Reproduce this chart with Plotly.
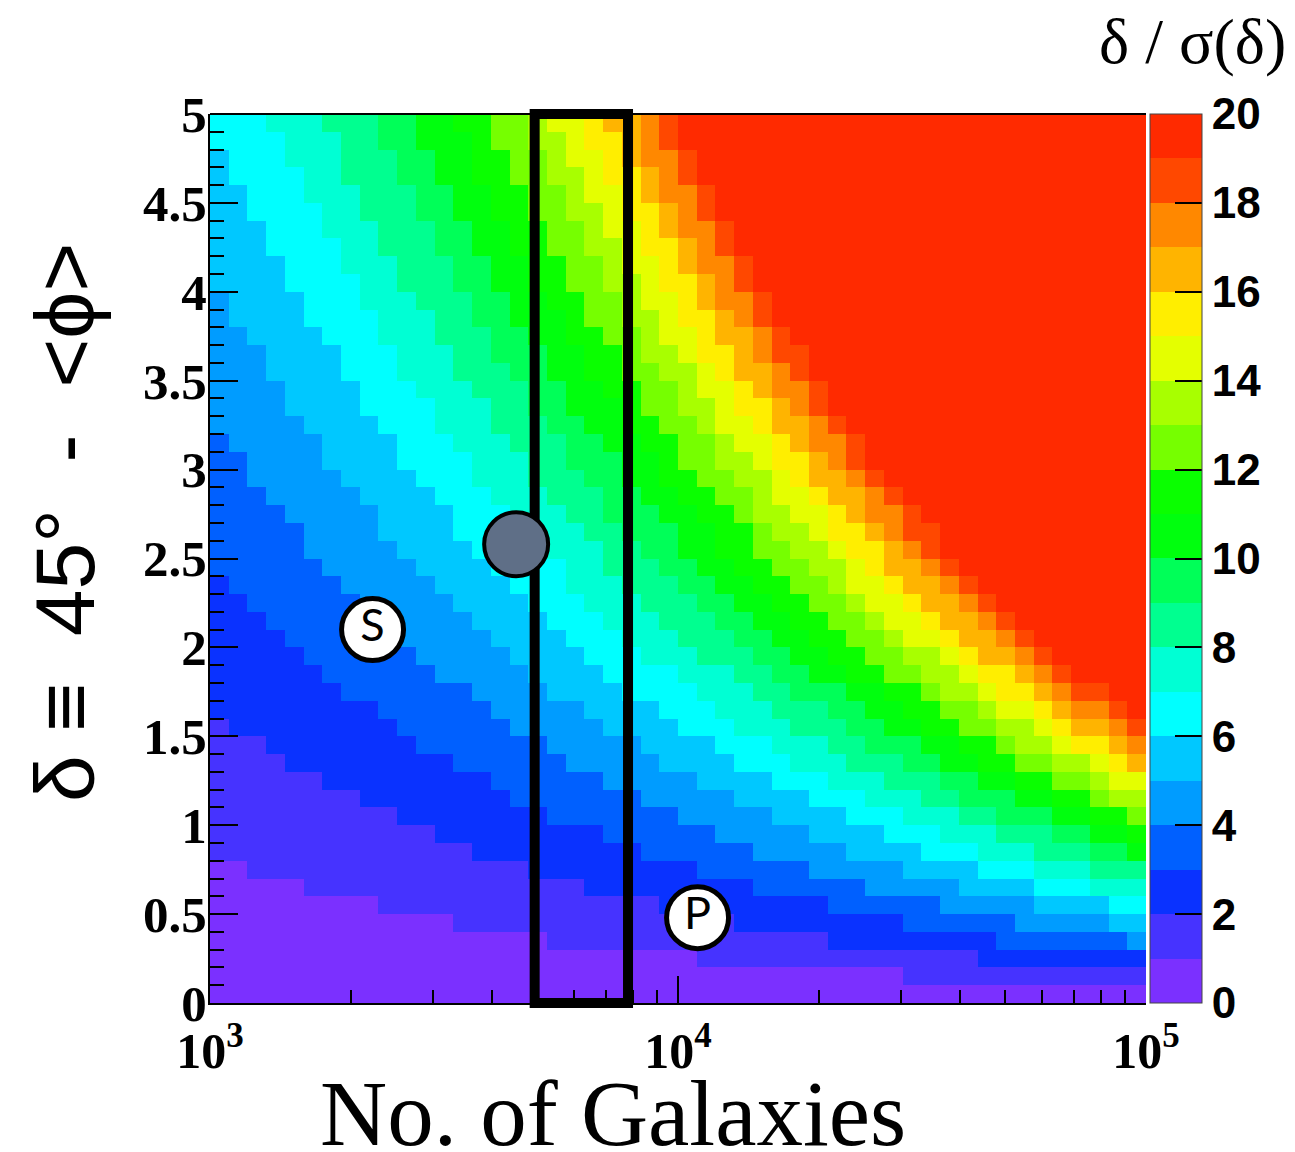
import numpy as np
import plotly.graph_objects as go

# ---------------- data ----------------
# 2-D histogram grid: 50 log-spaced bins in the number of galaxies, 50 bins of 0.1 deg in delta
n_bin_edges = np.logspace(3, 5, 51)
delta_bin_edges = np.linspace(0.0, 5.0, 51)

# For each delta row (bottom row first), the N-bin index at which each successive
# integer level of delta/sigma(delta) begins (level 1, 2, 3, ...), read off the colour staircase.
level_start_bin = [
    [],
    [37],
    [26, 41],
    [18, 33, 42, 49],
    [13, 28, 37, 43, 48],
    [9, 24, 33, 39, 44, 48],
    [5, 20, 29, 35, 40, 44, 47],
    [2, 17, 26, 32, 37, 41, 44, 47],
    [0, 14, 23, 29, 34, 38, 41, 44, 47, 49],
    [0, 12, 21, 27, 32, 36, 39, 42, 45, 47, 49],
    [0, 10, 18, 25, 30, 34, 37, 40, 42, 45, 47, 49],
    [0, 8, 16, 23, 28, 32, 35, 38, 40, 43, 45, 47, 48],
    [0, 6, 15, 21, 26, 30, 33, 36, 39, 41, 43, 45, 47, 48],
    [0, 4, 13, 19, 24, 28, 31, 34, 37, 39, 41, 43, 45, 47, 48, 49],
    [0, 3, 11, 18, 23, 27, 30, 33, 35, 38, 40, 42, 43, 45, 46, 48, 49],
    [0, 1, 10, 16, 21, 25, 28, 31, 34, 36, 38, 40, 42, 44, 45, 46, 48, 49],
    [0, 0, 9, 15, 20, 24, 27, 30, 33, 35, 37, 39, 41, 42, 44, 45, 46, 48, 49],
    [0, 0, 7, 14, 18, 22, 26, 29, 31, 34, 36, 38, 39, 41, 42, 44, 45, 46, 48, 49],
    [0, 0, 6, 12, 17, 21, 25, 28, 30, 32, 34, 36, 38, 40, 41, 43, 44, 45, 46, 47],
    [0, 0, 5, 11, 16, 20, 23, 26, 29, 31, 33, 35, 37, 39, 40, 41, 43, 44, 45, 46],
    [0, 0, 4, 10, 15, 19, 22, 25, 28, 30, 32, 34, 36, 37, 39, 40, 42, 43, 44, 45],
    [0, 0, 3, 9, 14, 18, 21, 24, 27, 29, 31, 33, 35, 36, 38, 39, 41, 42, 43, 44],
    [0, 0, 2, 8, 13, 17, 20, 23, 26, 28, 30, 32, 34, 35, 37, 38, 40, 41, 42, 43],
    [0, 0, 1, 7, 12, 16, 19, 22, 25, 27, 29, 31, 33, 34, 36, 37, 39, 40, 41, 42],
    [0, 0, 0, 6, 11, 15, 19, 21, 24, 26, 28, 30, 32, 34, 35, 36, 38, 39, 40, 41],
    [0, 0, 0, 5, 10, 14, 18, 21, 23, 25, 27, 29, 31, 33, 34, 36, 37, 38, 39, 40],
    [0, 0, 0, 5, 9, 13, 17, 20, 22, 25, 27, 29, 30, 32, 33, 35, 36, 37, 39, 40],
    [0, 0, 0, 4, 9, 13, 16, 19, 21, 24, 26, 28, 29, 31, 33, 34, 35, 37, 38, 39],
    [0, 0, 0, 3, 8, 12, 15, 18, 21, 23, 25, 27, 29, 30, 32, 33, 35, 36, 37, 38],
    [0, 0, 0, 2, 7, 11, 14, 17, 20, 22, 24, 26, 28, 30, 31, 32, 34, 35, 36, 37],
    [0, 0, 0, 2, 6, 10, 14, 17, 19, 22, 24, 25, 27, 29, 30, 32, 33, 34, 35, 37],
    [0, 0, 0, 1, 6, 10, 13, 16, 19, 21, 23, 25, 27, 28, 30, 31, 32, 34, 35, 36],
    [0, 0, 0, 0, 5, 9, 12, 15, 18, 20, 22, 24, 26, 27, 29, 30, 32, 33, 34, 35],
    [0, 0, 0, 0, 4, 8, 12, 15, 17, 19, 22, 23, 25, 27, 28, 30, 31, 32, 33, 35],
    [0, 0, 0, 0, 4, 8, 11, 14, 17, 19, 21, 23, 25, 26, 28, 29, 30, 32, 33, 34],
    [0, 0, 0, 0, 3, 7, 10, 13, 16, 18, 20, 22, 24, 26, 27, 28, 30, 31, 32, 33],
    [0, 0, 0, 0, 3, 7, 10, 13, 15, 18, 20, 22, 23, 25, 26, 28, 29, 30, 32, 33],
    [0, 0, 0, 0, 2, 6, 9, 12, 15, 17, 19, 21, 23, 24, 26, 27, 29, 30, 31, 32],
    [0, 0, 0, 0, 1, 5, 9, 12, 14, 16, 19, 20, 22, 24, 25, 27, 28, 29, 30, 32],
    [0, 0, 0, 0, 1, 5, 8, 11, 14, 16, 18, 20, 22, 23, 25, 26, 27, 29, 30, 31],
    [0, 0, 0, 0, 0, 4, 8, 10, 13, 15, 17, 19, 21, 23, 24, 26, 27, 28, 29, 30],
    [0, 0, 0, 0, 0, 4, 7, 10, 13, 15, 17, 19, 21, 22, 24, 25, 26, 28, 29, 30],
    [0, 0, 0, 0, 0, 3, 7, 9, 12, 14, 16, 18, 20, 22, 23, 25, 26, 27, 28, 29],
    [0, 0, 0, 0, 0, 3, 6, 9, 12, 14, 16, 18, 20, 21, 23, 24, 25, 27, 28, 29],
    [0, 0, 0, 0, 0, 2, 6, 8, 11, 13, 15, 17, 19, 21, 22, 24, 25, 26, 27, 28],
    [0, 0, 0, 0, 0, 2, 5, 8, 11, 13, 15, 17, 19, 20, 22, 23, 24, 26, 27, 28],
    [0, 0, 0, 0, 0, 1, 5, 7, 10, 12, 14, 16, 18, 20, 21, 23, 24, 25, 26, 27],
    [0, 0, 0, 0, 0, 1, 4, 7, 10, 12, 14, 16, 18, 19, 21, 22, 23, 25, 26, 27],
    [0, 0, 0, 0, 0, 0, 4, 7, 9, 11, 14, 15, 17, 19, 20, 22, 23, 24, 25, 26],
    [0, 0, 0, 0, 0, 0, 3, 6, 9, 11, 13, 15, 17, 18, 20, 21, 23, 24, 25, 26],
]

# colour of each integer band 0-1, 1-2, ... 19-20 (values above 20 keep the top colour)
level_colors = [
    "#7b30ff", "#4633ff", "#0a32ff", "#0060ff", "#009cff",
    "#00c8ff", "#00ffff", "#00ffd4", "#00ff90", "#00ff58",
    "#00ff0e", "#0aff00", "#76ff00", "#a8ff00", "#e4ff00",
    "#ffee00", "#ffb400", "#ff8800", "#ff4800", "#ff2a00",
]
cbar_ticks = [0, 2, 4, 6, 8, 10, 12, 14, 16, 18, 20]

x_tick_vals = [1e3, 1e4, 1e5]
x_tick_text = ["10<sup>3</sup>", "10<sup>4</sup>", "10<sup>5</sup>"]
x_minor_vals = [2000, 3000, 4000, 5000, 6000, 7000, 8000, 9000,
                20000, 30000, 40000, 50000, 60000, 70000, 80000, 90000]

label_text = ["S", "P"]
label_n = [2225, 11010]
label_delta = [2.10, 0.48]

current_n = [4510]
current_delta = [2.58]

window_n = [4940, 7820]
delta_range = [0, 5]

# ---------------- figure ----------------
n_cols = len(n_bin_edges) - 1
z_level = [[sum(1 for s in starts if s <= c) for c in range(n_cols)] for starts in level_start_bin]
z_plot = [[min(v, len(level_colors) - 1) + 0.5 for v in row] for row in z_level]

nlev = len(level_colors)
colorscale = []
for i, col in enumerate(level_colors):
    colorscale.append([i / nlev, col])
    colorscale.append([(i + 1) / nlev, col])

W, H = 1295, 1152
ML, MR, MT, MB = 210, 149, 104, 139          # paper margins
PAD = 10                                       # px of overlay area beyond the frame (top & bottom)
paper_h = H - MT - MB
frame_h = paper_h - 2 * PAD
pad_dom = PAD / paper_h
pad_units = PAD * (delta_range[1] - delta_range[0]) / frame_h

fig = go.Figure()
fig.add_trace(go.Heatmap(
    x=n_bin_edges, y=delta_bin_edges, z=z_plot,
    zmin=0, zmax=20, zsmooth=False, colorscale=colorscale,
    hoverinfo="skip",
    colorbar=dict(
        x=1.0043, xanchor="left", xpad=0, thickness=52,
        y=0.5, yanchor="middle", len=frame_h / paper_h, lenmode="fraction", ypad=0,
        tickmode="array", tickvals=cbar_ticks, ticktext=[str(v) for v in cbar_ticks],
        ticks="inside", ticklen=27, tickwidth=2, tickcolor="black",
        tickfont=dict(family="Liberation Sans", size=44, color="black", weight="bold"),
        outlinewidth=1, outlinecolor="#444444",
    ),
))

# overlay subplot (same scales, drawn above the histogram): window box and markers
fig.add_trace(go.Scatter(
    x=label_n, y=label_delta, xaxis="x2", yaxis="y2",
    mode="markers+text", text=label_text, textposition="middle center",
    textfont=dict(family="Lato", size=45, color="black"),
    marker=dict(size=62, color="white", line=dict(color="black", width=5)),
    hoverinfo="skip", showlegend=False,
))
fig.add_trace(go.Scatter(
    x=current_n, y=current_delta, xaxis="x2", yaxis="y2", mode="markers",
    marker=dict(size=64, color="#5f6f87", line=dict(color="black", width=4)),
    hoverinfo="skip", showlegend=False,
))

fig.update_layout(
    width=W, height=H,
    margin=dict(l=ML, r=MR, t=MT, b=MB, autoexpand=False),
    paper_bgcolor="white", plot_bgcolor="rgba(0,0,0,0)",
    showlegend=False,
    xaxis=dict(
        type="log", range=[3, 5], anchor="y",
        tickmode="array", tickvals=x_tick_vals, ticktext=x_tick_text,
        ticks="inside", ticklen=27, tickwidth=2, tickcolor="black",
        minor=dict(tickmode="array", tickvals=x_minor_vals, ticks="inside",
                   ticklen=13, tickwidth=2, tickcolor="black"),
        showline=True, linecolor="black", linewidth=2,
        showgrid=False, zeroline=False,
        tickfont=dict(family="Liberation Serif", size=50, color="black", weight="bold"),
        ticklabelstandoff=3,
    ),
    yaxis=dict(
        range=delta_range, domain=[pad_dom, 1 - pad_dom], anchor="x",
        tickmode="linear", tick0=0, dtick=0.5,
        ticks="inside", ticklen=28, tickwidth=2, tickcolor="black",
        minor=dict(dtick=0.1, ticks="inside", ticklen=14, tickwidth=2, tickcolor="black"),
        showline=True, linecolor="black", linewidth=2,
        showgrid=False, zeroline=False,
        tickfont=dict(family="Liberation Serif", size=51, color="black", weight="bold"),
        ticklabelstandoff=-9,
    ),
    xaxis2=dict(type="log", range=[3, 5], anchor="y2", visible=False, showgrid=False),
    yaxis2=dict(range=[delta_range[0] - pad_units, delta_range[1] + pad_units],
                domain=[0, 1], anchor="x2", visible=False, showgrid=False),
    shapes=[
        dict(type="line", xref="x domain", yref="y domain", x0=0, x1=1, y0=1, y1=1,
             line=dict(color="black", width=2), layer="above"),
        dict(type="rect", xref="x2", yref="y2", x0=window_n[0], x1=window_n[1],
             y0=delta_range[0], y1=delta_range[1],
             line=dict(color="black", width=10), fillcolor="rgba(0,0,0,0)", layer="below"),
    ],
    annotations=[
        dict(xref="paper", yref="paper", x=0.4306, y=(H - MB - 1113) / paper_h,
             xanchor="center", yanchor="middle",
             text="No. of Galaxies", showarrow=False,
             font=dict(family="Liberation Serif", size=93, color="black")),
        dict(xref="paper", yref="paper", x=-0.155, y=(H - MB - 522) / paper_h,
             xanchor="center", yanchor="middle",
             text="δ ≡  45°  -  &lt;ϕ&gt;", textangle=-90, showarrow=False,
             font=dict(family="Liberation Sans", size=84, color="black")),
        dict(xref="paper", yref="paper", x=1.1517, y=(H - MB - 42) / paper_h,
             xanchor="right", yanchor="middle",
             text="δ / σ(δ)", showarrow=False,
             font=dict(family="Liberation Serif", size=64, color="black")),
    ],
)

fig.write_html("out.html")
